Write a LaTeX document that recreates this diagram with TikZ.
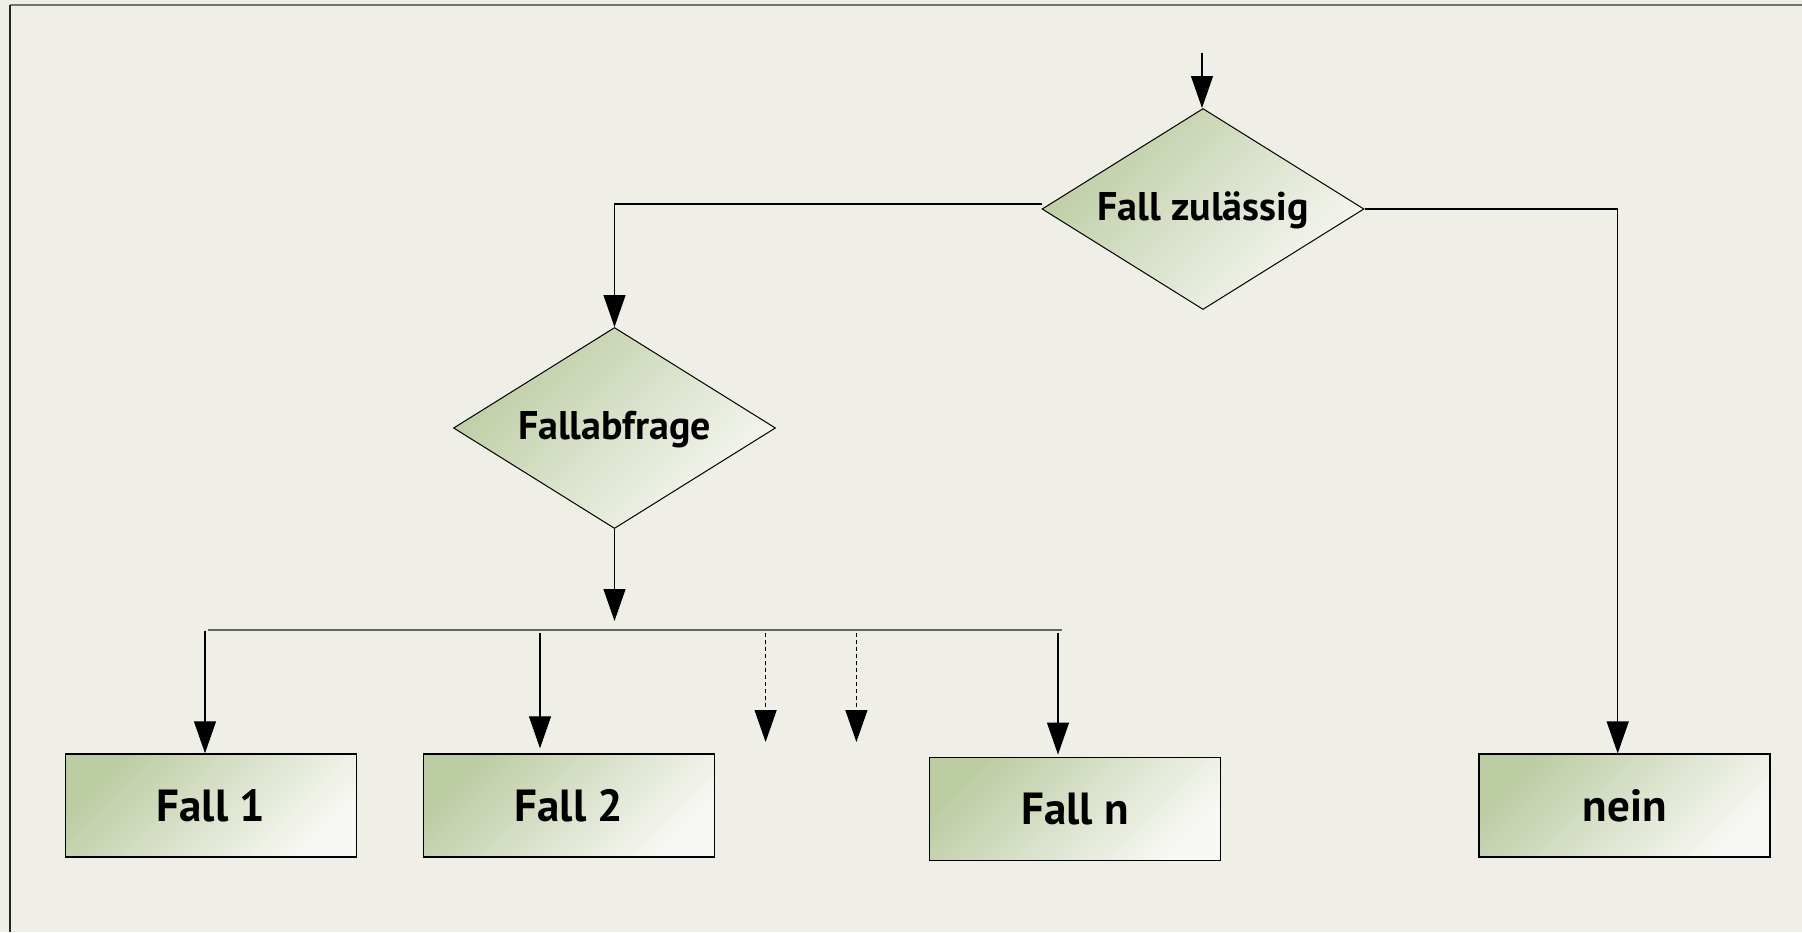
\documentclass[tikz,border=0pt]{standalone}
\usepackage{fontspec}
\setmainfont{PT Sans}
\usetikzlibrary{shapes.geometric,arrows.meta,calc}
\definecolor{bgc}{HTML}{EFEFE7}
\definecolor{gA}{HTML}{BCCCA2}
\definecolor{gB}{HTML}{F7F8F4}
\tikzset{
  flowshade/.style={left color=gA, right color=gB, shading angle=45},
  dec/.style={diamond, draw=black, line width=1pt, flowshade, inner sep=0pt,
    aspect=1.61, minimum width=322pt, minimum height=201pt,
    text height=29pt, text depth=6pt,
    font=\fontsize{40}{48}\selectfont\bfseries, text=black},
  casebox/.style={rectangle, draw=black, line width=1.5pt, flowshade, inner sep=0pt,
    minimum width=291pt, minimum height=103pt,
    font=\fontsize{45}{54}\selectfont\bfseries, text=black},
  arr/.style={line width=1.2pt, -{Triangle[length=32pt,width=22pt]}},
  dashedarr/.style={line width=1.2pt, dash pattern=on 4pt off 3pt, -{Triangle[length=32pt,width=22pt]}},
}
\begin{document}
\begin{tikzpicture}[x=1pt,y=-1pt]
\useasboundingbox (0,0) rectangle (1802,932);
\fill[bgc] (0,0) rectangle (1802,932);
% frame
\coordinate (fTL) at (10,5);
\coordinate (fTR) at (1802,5);
\coordinate (fBL) at (10,932);
\draw[line width=2pt, draw=black!55] (fTL) -- (fTR);
\draw[line width=2pt, draw=black!85] (fTL) -- (fBL);

% nodes
\node[dec] (zul) at (1203,209) {Fall zulässig};
\node[dec] (fa) at (614.5,428) {Fallabfrage};
\node[casebox] (f1) at (211,805.5) {Fall 1};
\node[casebox] (f2) at (569,805.5) {Fall 2};
\node[casebox] (fn) at (1075,808.8) {Fall n};
\node[casebox] (nein) at (1624.7,805.7) {nein};

% entry
\coordinate (entry) at (1202,53);
\draw[arr] (entry) -- (entry |- zul.north);

% left branch
\draw[arr] ([yshift=5pt]zul.west) -| (fa.north);
% right branch
\draw[arr] (zul.east) -| ([xshift=-7pt]nein.north);

% down from Fallabfrage
\coordinate (busin) at (614.5,621);
\draw[arr] (fa.south) -- (busin);

% bus
\coordinate (busL) at (208,630);
\coordinate (busR) at (1062,630);
\draw[line width=2pt, draw=black!60] (busL) -- (busR);

% drops
\coordinate (d1) at (205,631);
\coordinate (d2) at (540,633);
\coordinate (d3) at (765.6,633);
\coordinate (d4) at (856.4,633);
\coordinate (d5) at (1058,633);
\coordinate (e3) at (765.6,742);
\coordinate (e4) at (856.4,742);
\draw[arr] (d1) -- (d1 |- f1.north);
\draw[arr] (d2) -- ([yshift=5pt]d2 |- f2.north);
\draw[dashedarr] (d3) -- (e3);
\draw[dashedarr] (d4) -- (e4);
\draw[arr] (d5) -- ([yshift=2pt]d5 |- fn.north);
\end{tikzpicture}
\end{document}
